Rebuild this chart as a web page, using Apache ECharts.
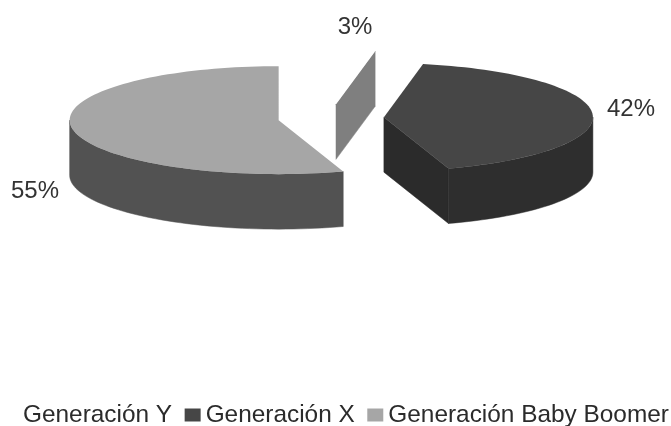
<!DOCTYPE html>
<html>
<head>
<meta charset="utf-8">
<style>html,body{margin:0;padding:0;background:#fff}#chart{width:671px;height:426px}</style>
<script src="https://cdn.jsdelivr.net/npm/echarts@6/dist/echarts.min.js"></script>
</head>
<body>
<div id="chart"></div>
<script>
const categories = ['Generación Y', 'Generación X', 'Generación Baby Boomer'];
const values = [3, 42, 55];

// Shades per slice: top face, rim wall, cut wall
const topColors = ['#ffffff', '#464646', '#a6a6a6'];
const rimColors = ['#7f7f7f', '#2e2e2e', '#525252'];
const cutColors = ['#7f7f7f', '#2b2b2b', '#525252'];
// Where each percentage sits, as [x, y] of the text centre
const labelSpots = [[355, 27], [631, 109], [35, 191]];

// Oblique pie projection
const pie = { cx: 331, cy: 118, rx: 209, ry: 54, depth: 55, explode: 53 };
const total = values.reduce((a, b) => a + b, 0);

function project(apex, deg) {
  const t = deg * Math.PI / 180;
  return [apex[0] + pie.rx * Math.sin(t), apex[1] - pie.ry * Math.cos(t)];
}
function arcPoints(apex, from, to) {
  const pts = [];
  const steps = Math.max(2, Math.ceil(Math.abs(to - from) / 2));
  for (let i = 0; i <= steps; i++) pts.push(project(apex, from + (to - from) * i / steps));
  return pts;
}
function lowered(pts) { return pts.map(p => [p[0], p[1] + pie.depth]); }
function wall(pts, color) {
  return { type: 'polygon', shape: { points: pts.concat(lowered(pts).reverse()) },
           style: { fill: color, stroke: color, lineWidth: 0.5 } };
}

function sliceRenderer(index) {
  return function () {
    const before = values.slice(0, index).reduce((a, b) => a + b, 0);
    const start = before / total * 360;
    const end = (before + values[index]) / total * 360;
    const mid = (start + end) / 2 * Math.PI / 180;
    const apex = [
      pie.cx + pie.explode * Math.sin(mid),
      pie.cy - pie.explode * Math.cos(mid) * pie.ry / pie.rx
    ];
    const children = [];
    // Cut faces that turn toward the viewer
    if (Math.sin(end * Math.PI / 180) > 0.001) {
      children.push(wall([apex, project(apex, end)], cutColors[index]));
    }
    if (Math.sin(start * Math.PI / 180) < -0.001) {
      children.push(wall([apex, project(apex, start)], cutColors[index]));
    }
    // Front part of the rim
    const a = Math.max(start, 90), b = Math.min(end, 270);
    if (b > a) children.push(wall(arcPoints(apex, a, b), rimColors[index]));
    // Top face
    children.push({
      type: 'polygon',
      shape: { points: [apex].concat(arcPoints(apex, start, end)) },
      style: { fill: topColors[index] }
    });
    children.push({
      type: 'text',
      x: labelSpots[index][0], y: labelSpots[index][1],
      style: {
        text: values[index] + '%', fill: '#333333',
        font: '24px "Liberation Sans", Arial, sans-serif',
        align: 'center', verticalAlign: 'middle'
      }
    });
    return { type: 'group', children };
  };
}

const chart = echarts.init(document.getElementById('chart'), null, { renderer: 'canvas' });
chart.setOption({
  animation: false,
  backgroundColor: '#ffffff',
  legend: {
    show: true,
    data: categories,
    left: 2,
    top: 403,
    padding: 0,
    itemWidth: 16,
    itemHeight: 13,
    itemGap: 12.5,
    icon: 'rect',
    textStyle: { fontFamily: '"Liberation Sans", Arial, sans-serif', fontSize: 24.4, color: '#2b2b2b' }
  },
  series: [2, 0, 1].map(i => ({
    type: 'custom',
    name: categories[i],
    coordinateSystem: 'none',
    itemStyle: { color: topColors[i] },
    data: [[values[i]]],
    renderItem: sliceRenderer(i)
  }))
});
</script>
</body>
</html>
